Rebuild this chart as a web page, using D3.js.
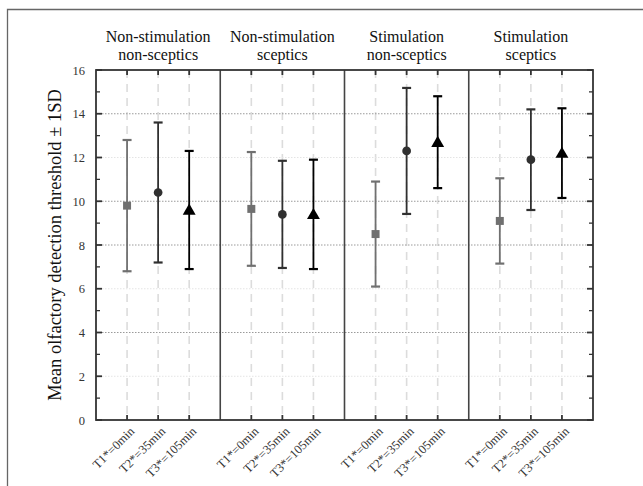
<!DOCTYPE html>
<html><head><meta charset="utf-8">
<script src="https://cdn.jsdelivr.net/npm/d3@7"></script>
<style>
body{margin:0;background:#fff;}
svg{display:block;font-family:"Liberation Serif","Times New Roman",serif;}
</style></head>
<body><svg id="c" width="643" height="486"></svg>
<script>
const panels = [["Non-stimulation","non-sceptics"],["Non-stimulation","sceptics"],["Stimulation","non-sceptics"],["Stimulation","sceptics"]];
const times = ["T1*=0min","T2*=35min","T3*=105min"];
const means = [[9.8,10.4,9.6],[9.65,9.4,9.4],[8.5,12.3,12.7],[9.1,11.9,12.2]];
const sds   = [[3.0,3.2,2.7],[2.6,2.45,2.5],[2.4,2.88,2.1],[1.95,2.3,2.05]];
const yTicks = [0,2,4,6,8,10,12,14,16];
const yMinor = [1,3,5,7,9,11,13,15];
const gridStrong = [4,8,10,14];
const gridFaint = [2,6,12];
const yLabel = "Mean olfactory detection threshold \u00b1 1SD";
const colors = ["#707070","#303030","#000000"];
const shapes = [d3.symbolSquare, d3.symbolCircle, d3.symbolTriangle];

const svg = d3.select("#c");
const L=96,R=593,T=70,B=420;
const x = d3.scaleLinear().domain([0,16]).range([L,R]);
const y = d3.scaleLinear().domain([0,16]).range([B,T]);
const pos = (p,t)=>p*4+t+1;

// outer frame
svg.append("path").attr("d",`M7.5,486 V9.5 H643`).attr("fill","none").attr("stroke","#666").attr("stroke-width",1.3);

// vertical dashed lines
panels.forEach((_,p)=>times.forEach((_,t)=>{
  svg.append("line").attr("x1",x(pos(p,t))).attr("x2",x(pos(p,t))).attr("y1",T).attr("y2",B)
    .attr("stroke","#dcdcdc").attr("stroke-width",1.6).attr("stroke-dasharray","8,6");
}));
// grid
gridFaint.forEach(v=>svg.append("line").attr("x1",L).attr("x2",R).attr("y1",y(v)).attr("y2",y(v))
  .attr("stroke","#e4e4e4").attr("stroke-width",1).attr("stroke-dasharray","1.5,1.5"));
gridStrong.forEach(v=>svg.append("line").attr("x1",L).attr("x2",R).attr("y1",y(v)).attr("y2",y(v))
  .attr("stroke","#9a9a9a").attr("stroke-width",1).attr("stroke-dasharray","1.5,1.5"));

// dividers
[4,8,12].forEach(v=>svg.append("line").attr("x1",x(v)).attr("x2",x(v)).attr("y1",T).attr("y2",B)
  .attr("stroke","#444").attr("stroke-width",1.6));

// axes
const ax = svg.append("g").attr("stroke","#333").attr("stroke-width",1.8);
ax.append("rect").attr("x",L).attr("y",T).attr("width",R-L).attr("height",B-T).attr("fill","none");
yTicks.forEach(v=>{
  ax.append("line").attr("x1",L).attr("x2",L+6).attr("y1",y(v)).attr("y2",y(v));
  ax.append("line").attr("x1",R).attr("x2",R-6).attr("y1",y(v)).attr("y2",y(v));
});
yMinor.forEach(v=>{
  ax.append("line").attr("x1",L).attr("x2",L+4).attr("y1",y(v)).attr("y2",y(v)).attr("stroke-width",1.3);
  ax.append("line").attr("x1",R).attr("x2",R-4).attr("y1",y(v)).attr("y2",y(v)).attr("stroke-width",1.3);
});
panels.forEach((_,p)=>times.forEach((_,t)=>{
  const xx=x(pos(p,t));
  ax.append("line").attr("x1",xx).attr("x2",xx).attr("y1",B).attr("y2",B-5);
  ax.append("line").attr("x1",xx).attr("x2",xx).attr("y1",T).attr("y2",T+5);
}));
// y tick labels
svg.append("g").selectAll("text").data(yTicks).join("text")
  .attr("x",L-11).attr("y",d=>y(d)+4.5).attr("text-anchor","end")
  .attr("font-size",12.5).attr("fill","#333").text(d=>d);

// y label
svg.append("text").attr("transform",`translate(61,${(T+B)/2}) rotate(-90)`)
  .attr("text-anchor","middle").attr("font-size",18.5).attr("fill","#111").text(yLabel);

// panel titles
panels.forEach((lines,p)=>{
  const cx = x(p*4+2);
  lines.forEach((s,i)=>svg.append("text").attr("x",cx).attr("y",42+i*18).attr("text-anchor","middle")
    .attr("font-size",16).attr("fill","#111").text(s));
});

// x tick labels
panels.forEach((_,p)=>times.forEach((s,t)=>{
  const xx=x(pos(p,t))+8, yy=432;
  svg.append("text").attr("transform",`translate(${xx},${yy}) rotate(-45)`)
    .attr("text-anchor","end").attr("font-size",12.5).attr("fill","#333").text(s);
}));

// error bars and markers
panels.forEach((_,p)=>times.forEach((_,t)=>{
  const xx=x(pos(p,t)), m=means[p][t], s=sds[p][t], c=colors[t];
  const g=svg.append("g").attr("stroke",c).attr("stroke-width",1.8);
  g.append("line").attr("x1",xx).attr("x2",xx).attr("y1",y(m+s)).attr("y2",y(m-s));
  [m+s,m-s].forEach(v=>g.append("line").attr("x1",xx-4.5).attr("x2",xx+4.5).attr("y1",y(v)).attr("y2",y(v)).attr("stroke-width",2.2));
  const size = t===0?64:(t===1?60:72);
  svg.append("path").attr("d",d3.symbol().type(shapes[t]).size(size)())
    .attr("transform",`translate(${xx},${y(m)+(t===2?1:0)})`).attr("fill",c);
}));
</script></body></html>
